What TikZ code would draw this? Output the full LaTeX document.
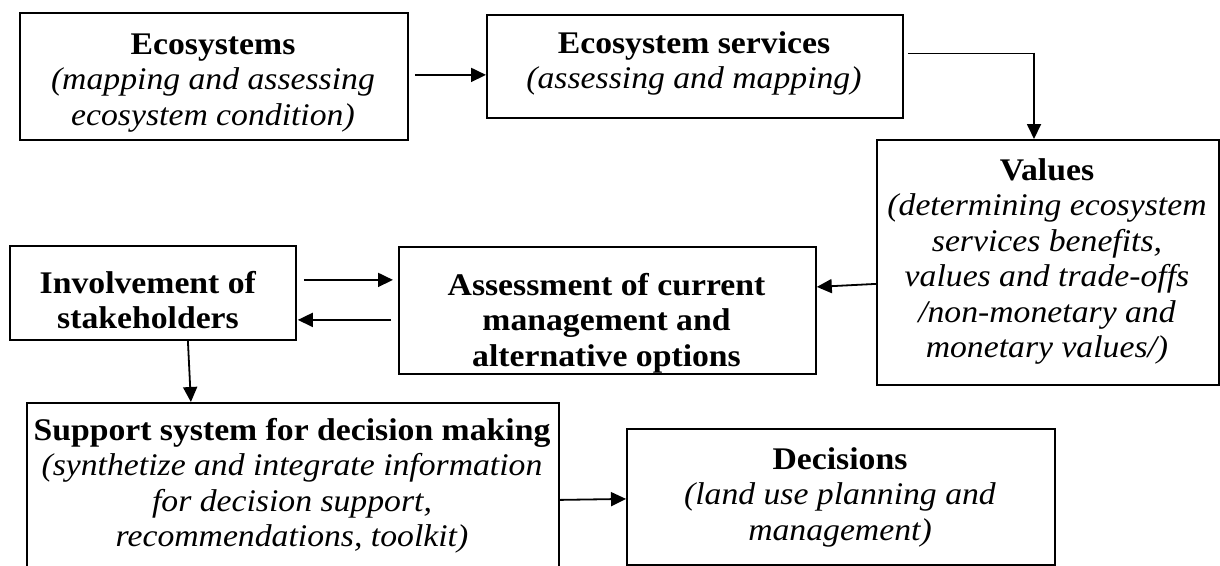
\documentclass[tikz,border=0pt]{standalone}
\usepackage{fontspec}
\setmainfont{Liberation Serif}[FakeStretch=1.07]
\usetikzlibrary{arrows.meta}
\begin{document}
\begin{tikzpicture}[x=1pt,y=-1pt,
  box/.style={draw, line width=1.8pt, inner sep=0pt, anchor=north west},
  txt/.style={anchor=north, inner sep=0pt, align=center,
     font=\fontsize{31.5}{35.5}\selectfont},
  arr/.style={line width=1.8pt, -{Triangle[length=15pt,width=14pt]}},
  thinline/.style={line width=0.9pt}]
\useasboundingbox (0,0) rectangle (1220,565);
% boxes
\node[box, minimum width=388pt, minimum height=127pt] (eco) at (19,12) {};
\node[box, minimum width=416pt, minimum height=103pt] (es) at (486,14) {};
\node[box, minimum width=342pt, minimum height=245pt] (val) at (876,139) {};
\node[box, minimum width=286pt, minimum height=94pt] (inv) at (9,245) {};
\node[box, minimum width=417pt, minimum height=127pt] (ass) at (398,246) {};
\node[box, minimum width=532pt, minimum height=178pt] (sup) at (26,402) {};
\node[box, minimum width=428pt, minimum height=136pt] (dec) at (626,428) {};
% texts
\node[txt] (ecoT) at (213,29.15) {\strut\textbf{Ecosystems}\\\textit{(mapping and assessing}\\\textit{ecosystem condition)}};
\node[txt] (esT) at (694,28.15) {\strut\textbf{Ecosystem services}\\\textit{(assessing and mapping)}};
\node[txt] (valT) at (1047,155.15) {\strut\textbf{Values}\\\textit{(determining ecosystem}\\\textit{services benefits,}\\\textit{values and trade-offs}\\\textit{/non-monetary and}\\\textit{monetary values/)}};
\node[txt] (invT) at (148,268.15) {\strut\textbf{Involvement of}\\\textbf{stakeholders}};
\node[txt] (assT) at (606.5,270.15) {\strut\textbf{Assessment of current}\\\textbf{management and}\\\textbf{alternative options}};
\node[txt] (supT) at (292,415.15) {\strut\textbf{Support system for decision making}\\\textit{(synthetize and integrate information}\\\textit{for decision support,}\\\textit{recommendations, toolkit)}};
\node[txt] (decT) at (840,444.15) {\strut\textbf{Decisions}\\\textit{(land use planning and}\\\textit{management)}};
% connectors
\coordinate (c0) at ([yshift=1.5pt]eco.east);
\draw[arr, shorten <=6pt] (c0) -- (c0 -| es.west);
\coordinate (bend) at (1034,53);
\draw[thinline, shorten <=4pt] (es.east |- bend) -- (bend);
\draw[arr] ([yshift=0.45pt]bend) -- (bend |- val.north);
\draw[arr] ([yshift=-21.5pt]val.west) -- ([yshift=23.5pt]ass.east);
\coordinate (a1) at ([yshift=13pt]inv.east);
\draw[arr, shorten <=7pt, shorten >=5pt] (a1) -- (a1 -| ass.west);
\coordinate (a2) at ([yshift=-27pt]inv.east);
\draw[arr, shorten <=7pt, shorten >=1pt] (a2 -| ass.west) -- (a2);
\draw[arr] ([xshift=35pt]inv.south) -- ([xshift=-102pt]sup.north);
\draw[arr] ([yshift=-8pt]sup.east) -- ([yshift=-2pt]dec.west);
\end{tikzpicture}
\end{document}
